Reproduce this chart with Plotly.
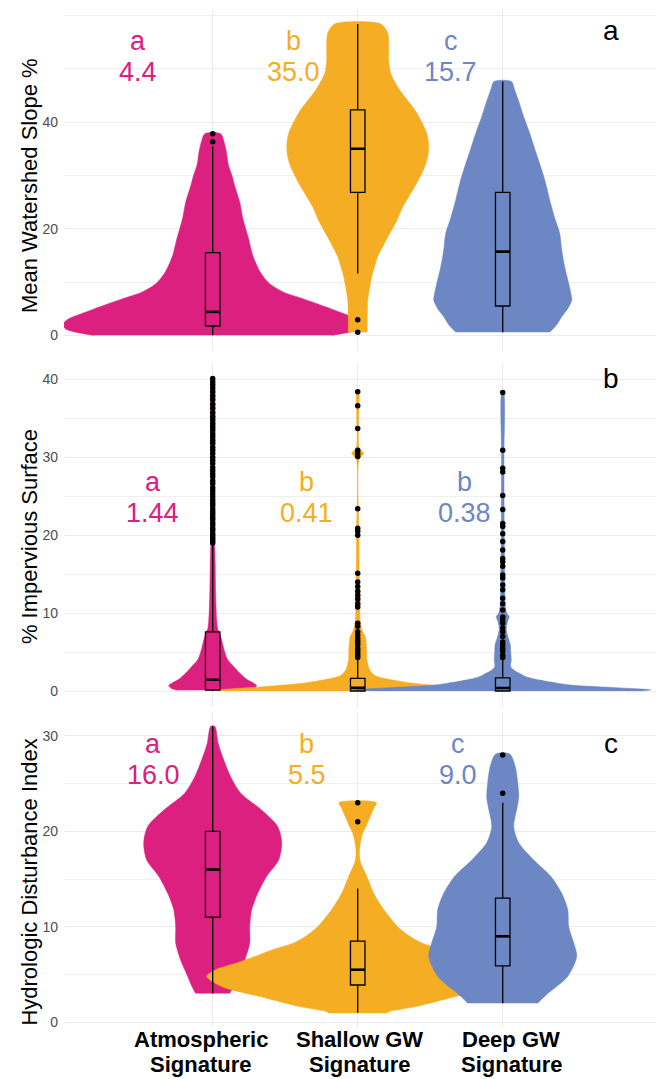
import plotly.graph_objects as go

# ---------------- data ----------------
categories = [1, 2, 3]
label_line1 = ["Atmospheric", "Shallow GW", "Deep GW"]
label_line2 = ["Signature", "Signature", "Signature"]
colors = ["#DC2080", "#F5AD23", "#6C87C4"]

# Panel a: Mean Watershed Slope %  (violin outline: level, scaled density)
slope_atm_y = [0, 0.6, 1.2, 2.0, 3, 4, 5, 6, 7, 8, 9, 10, 12, 15, 18, 20, 22, 25, 28, 29.8, 32.1, 34.6, 36.5, 37.8]
slope_atm_d = [119, 137, 147, 150, 145, 132, 118, 103, 88, 72, 62, 55, 47, 40, 36, 33, 30, 27, 22, 19.5, 15.5, 13.5, 11, 8]
slope_sgw_y = [0.6, 3, 6.6, 9, 11, 13, 14.8, 17, 19.1, 21.5, 24.1, 26, 27.9, 30, 31.6, 33.5, 35.1, 36.5, 37.9, 40, 42.3, 44.5, 46.6, 49.1, 51.5, 53.5, 56.7, 58.4]
slope_sgw_d = [9.5, 9.5, 10, 12, 14, 17, 20, 26, 32, 39, 45, 51, 57, 63, 67, 70, 71, 70.5, 69, 64, 57, 48, 40, 33, 31, 31, 30, 23]
slope_dgw_y = [0.6, 2, 3.5, 5, 6.6, 8, 9.7, 12.8, 16, 19.1, 22, 25.4, 28.5, 31.6, 35, 37.9, 41, 44.1, 46, 47.6]
slope_dgw_d = [47, 54, 59, 65, 69, 68, 66, 62, 59, 57, 52, 47, 43, 38, 32, 27, 21, 15.7, 12, 8.7]
slope_q1 = [1.75, 26.8, 5.5]
slope_median = [4.4, 35.0, 15.7]
slope_q3 = [15.5, 42.3, 26.8]
slope_lo = [0.0, 11.6, 0.6]
slope_hi = [35.4, 58.4, 47.6]
slope_out_atm = [36.3, 37.8]
slope_out_sgw = [2.9, 0.6]
slope_out_dgw = []
slope_letters = ["a", "b", "c"]
slope_median_text = ["4.4", "35.0", "15.7"]

# Panel b: % Impervious Surface
imp_atm_y = [0.1, 0.4, 0.7, 1.0, 1.5, 2.3, 3, 4, 5, 6, 7, 8, 9, 12, 16, 18.5, 19.5, 25, 40.1]
imp_atm_d = [36, 42, 44, 41, 34, 27, 22, 15, 12, 10, 8, 5, 4, 3, 2.5, 2, 1.3, 1.1, 0.8]
imp_sgw_y = [0, 0.1, 0.3, 0.5, 0.7, 1.0, 1.3, 1.6, 2.0, 2.5, 3, 3.5, 4, 5, 6, 7, 7.6, 8.5, 10, 11.5, 13, 15, 20, 29.8, 30.5, 31.2, 35, 38.4]
imp_sgw_d = [135, 141, 125, 100, 80, 55, 40, 27, 17, 13, 11, 10, 9, 9, 8.5, 7.5, 5, 3, 2, 2.5, 2, 1.5, 1.3, 1.5, 6, 1.5, 1, 0.8]
imp_dgw_y = [0, 0.15, 0.35, 0.55, 0.77, 1.0, 1.4, 1.8, 2.27, 2.7, 3.1, 4, 5, 6, 7, 8, 9, 9.5, 10, 11, 15, 20, 30, 38.3]
imp_dgw_d = [138, 148, 125, 95, 68, 55, 37, 24, 16.7, 11, 8, 8.5, 8, 7.5, 5, 3.5, 5, 6.5, 4, 2.5, 2, 1.5, 1.2, 0.8]
imp_q1 = [0.13, 0.0, 0.0]
imp_median = [1.44, 0.41, 0.38]
imp_q3 = [7.6, 1.63, 1.7]
imp_lo = [0.0, 0.0, 0.0]
imp_hi = [18.9, 4.0, 4.2]
imp_out_atm = [19.0, 19.3, 19.6, 19.9, 20.2, 20.6, 20.9, 21.3, 21.6, 22.0, 22.3, 22.7, 23.0, 23.4, 23.8,
               24.1, 24.5, 24.9, 25.3, 25.7, 26.1, 26.6, 27.0, 27.5, 27.9, 28.3, 28.7, 29.2, 29.6, 30.0,
               30.5, 30.9, 31.3, 31.8, 32.2, 32.6, 33.0, 33.5, 33.9, 34.3, 34.8, 35.2, 35.7, 36.3, 36.8,
               37.4, 37.9, 38.4, 38.9, 39.3, 39.7, 40.1]
imp_out_sgw = [38.4, 36.6, 33.7, 30.9, 30.5, 30.1, 23.4, 20.9, 20.5, 20.0, 15.1, 14.0, 13.4, 12.8, 12.3,
               11.8, 11.2, 10.8, 8.7, 8.3, 7.6, 7.2, 6.8, 6.5, 6.2, 5.9, 5.5, 5.2, 4.9, 4.6, 4.3]
imp_out_dgw = [38.3, 30.9, 28.6, 28.1, 25.1, 23.3, 21.5, 21.1, 20.2, 19.2, 18.1, 17.0, 16.6, 16.0, 14.9,
               14.5, 13.6, 13.0, 11.9, 11.2, 10.4, 9.5, 9.1, 8.7, 8.1, 7.6, 7.0, 6.3, 5.9, 5.5, 5.1, 4.6, 4.3]
imp_letters = ["a", "b", "b"]
imp_median_text = ["1.44", "0.41", "0.38"]

# Panel c: Hydrologic Disturbance Index
hdi_atm_y = [3.0, 3.8, 4.8, 6.5, 8.3, 10.0, 11.8, 13.5, 15.3, 17.0, 18.8, 20.5, 22.3, 24.0, 25.7, 27.5, 29.2, 31.0]
hdi_atm_d = [17, 21, 25, 32, 37, 37, 39, 45, 54, 66, 69, 65, 48, 28, 18, 11, 5.5, 2]
hdi_sgw_y = [0.94, 1.1, 1.64, 2.7, 3.7, 4.8, 5.5, 6.2, 7.0, 7.6, 8.3, 9.0, 10.0, 11.0, 11.8, 13.5, 15.3, 16.7, 17.5, 18.3, 19.0, 19.8, 20.7, 21.6, 22.4, 23.0]
hdi_sgw_d = [29, 31, 58, 98, 135, 151, 142, 121, 100, 85, 64, 52, 40, 32, 26, 16, 9, 3, 1.7, 2, 3, 5, 9, 12.7, 16, 18.7]
hdi_dgw_y = [2.0, 3.0, 4.8, 6.9, 8.3, 10.0, 11.8, 13.5, 15.3, 17.0, 18.8, 20.5, 22.3, 23.6, 25.1, 26.8, 28.1]
hdi_dgw_d = [35, 45, 65, 74, 71, 66, 65, 59, 48, 31, 16, 11, 14, 16, 15, 12.5, 7]
hdi_q1 = [11.0, 3.9, 5.9]
hdi_median = [16.0, 5.5, 9.0]
hdi_q3 = [20.0, 8.5, 13.0]
hdi_lo = [3.0, 1.0, 2.0]
hdi_hi = [31.0, 14.0, 23.0]
hdi_out_atm = []
hdi_out_sgw = [23.0, 21.0]
hdi_out_dgw = [28.0, 24.0]
hdi_letters = ["a", "b", "c"]
hdi_median_text = ["16.0", "5.5", "9.0"]

# ---------------- layout constants ----------------
FONT = "Liberation Sans, Arial, sans-serif"
W, H = 656, 1079
ML = 64
DENS_TO_X = 1 / 145.0      # scaled density -> category units
BOX_W = 0.1
XRANGE = [-0.0255, 4.057]

panels = [
    dict(title="Mean Watershed Slope %", tag="a",
         viol=[(slope_atm_y, slope_atm_d), (slope_sgw_y, slope_sgw_d), (slope_dgw_y, slope_dgw_d)],
         q1=slope_q1, med=slope_median, q3=slope_q3, lo=slope_lo, hi=slope_hi,
         out=[slope_out_atm, slope_out_sgw, slope_out_dgw],
         letters=slope_letters, medtxt=slope_median_text,
         domain=[0.67479, 0.99212], yrange=[-2.92, 61.3],
         major=[0, 20, 40], minor=[10, 30, 50, 60],
         lab_dx=[-0.515, -0.44, -0.36], let_y=55.16, num_y=49.35,
         tag_y=0.9719, title_y=0.8276),
    dict(title="% Impervious Surface", tag="b",
         viol=[(imp_atm_y, imp_atm_d), (imp_sgw_y, imp_sgw_d), (imp_dgw_y, imp_dgw_d)],
         q1=imp_q1, med=imp_median, q3=imp_q3, lo=imp_lo, hi=imp_hi,
         out=[imp_out_atm, imp_out_sgw, imp_out_dgw],
         letters=imp_letters, medtxt=imp_median_text,
         domain=[0.34513, 0.66358], yrange=[-2.0, 42.1],
         major=[0, 10, 20, 30, 40], minor=[5, 15, 25, 35],
         lab_dx=[-0.415, -0.355, -0.265], let_y=26.79, num_y=22.81,
         tag_y=0.6494, title_y=0.5023),
    dict(title="Hydrologic Disturbance Index", tag="c",
         viol=[(hdi_atm_y, hdi_atm_d), (hdi_sgw_y, hdi_sgw_d), (hdi_dgw_y, hdi_dgw_d)],
         q1=hdi_q1, med=hdi_median, q3=hdi_q3, lo=hdi_lo, hi=hdi_hi,
         out=[hdi_out_atm, hdi_out_sgw, hdi_out_dgw],
         letters=hdi_letters, medtxt=hdi_median_text,
         domain=[0.04819, 0.34013], yrange=[-0.5, 32.5],
         major=[0, 10, 20, 30], minor=[5, 15, 25],
         lab_dx=[-0.41, -0.35, -0.31], let_y=29.17, num_y=25.92,
         tag_y=0.3111, title_y=0.1821),
]

fig = go.Figure()
annotations = []
layout = {}

for p_i, p in enumerate(panels):
    sfx = "" if p_i == 0 else str(p_i + 1)
    xa, ya = "x" + sfx, "y" + sfx
    # overlay axes (drawn above the violins) for boxes, medians and outliers
    osfx = str(p_i + 4)
    oxa, oya = "x" + osfx, "y" + osfx
    # violins
    for g, (vy, vd) in enumerate(p["viol"]):
        c = categories[g]
        xs = [c + d * DENS_TO_X for d in vd] + [c - d * DENS_TO_X for d in reversed(vd)]
        ys = list(vy) + list(reversed(vy))
        fig.add_trace(go.Scatter(
            x=xs, y=ys, mode="lines", fill="toself", fillcolor=colors[g],
            line=dict(color=colors[g], width=0.5, shape="spline", smoothing=0.8),
            hoverinfo="skip", showlegend=False, xaxis=xa, yaxis=ya))
    # boxes
    fig.add_trace(go.Box(
        x=categories, q1=p["q1"], median=p["med"], q3=p["q3"], orientation="v",
        lowerfence=p["lo"], upperfence=p["hi"], width=BOX_W, whiskerwidth=0,
        fillcolor="rgba(0,0,0,0)", line=dict(color="black", width=1.3),
        boxpoints=False, hoverinfo="skip", showlegend=False, xaxis=oxa, yaxis=oya))
    # thicker median bars
    mx, my = [], []
    for c, m in zip(categories, p["med"]):
        mx += [c - BOX_W / 2, c + BOX_W / 2, None]
        my += [m, m, None]
    fig.add_trace(go.Scatter(x=mx, y=my, mode="lines", line=dict(color="black", width=2.6),
                             hoverinfo="skip", showlegend=False, xaxis=oxa, yaxis=oya))
    # outliers
    ox, oy = [], []
    for c, vals in zip(categories, p["out"]):
        ox += [c] * len(vals)
        oy += list(vals)
    fig.add_trace(go.Scatter(x=ox, y=oy, mode="markers", marker=dict(color="black", size=5.5),
                             hoverinfo="skip", showlegend=False, xaxis=oxa, yaxis=oya))
    # group letters and medians
    for g in range(3):
        for txt, yy in ((p["letters"][g], p["let_y"]), (p["medtxt"][g], p["num_y"])):
            annotations.append(dict(x=categories[g] + p["lab_dx"][g], y=yy, xref=xa, yref=ya,
                                    text=txt, showarrow=False, xanchor="center", yanchor="middle",
                                    font=dict(family=FONT, size=27, color=colors[g])))
    # panel tag
    annotations.append(dict(x=0.924, y=p["tag_y"], xref="paper", yref="paper", text=p["tag"],
                            showarrow=False, xanchor="center", yanchor="middle",
                            font=dict(family=FONT, size=28, color="black")))
    # y title
    annotations.append(dict(x=(29.1 - ML) / (W - ML), y=p["title_y"], xref="paper", yref="paper",
                            text=p["title"], textangle=-90, showarrow=False,
                            xanchor="center", yanchor="middle",
                            font=dict(family=FONT, size=22, color="black")))
    layout["xaxis" + sfx] = dict(domain=[0, 1], range=XRANGE, anchor=ya, tickvals=categories,
                                 showticklabels=False, ticks="", showgrid=True, automargin=False,
                                 gridcolor="#EBEBEB", gridwidth=1.2, zeroline=False, showline=False)
    layout["yaxis" + sfx] = dict(domain=p["domain"], range=p["yrange"], anchor=xa,
                                 tickvals=p["major"], ticks="", showgrid=True, automargin=False,
                                 gridcolor="#EBEBEB", gridwidth=1.2, zeroline=False, showline=False,
                                 ticklabelstandoff=5,
                                 tickfont=dict(family=FONT, size=14, color="#4D4D4D"),
                                 minor=dict(tickvals=p["minor"], showgrid=True,
                                            gridcolor="#EFEFEF", gridwidth=0.8))
    layout["xaxis" + osfx] = dict(overlaying=xa, anchor=oya, range=XRANGE, visible=False,
                                  showgrid=False, zeroline=False, automargin=False)
    layout["yaxis" + osfx] = dict(overlaying=ya, anchor=oxa, range=p["yrange"], visible=False,
                                  showgrid=False, zeroline=False, automargin=False)

# category labels under the bottom panel
lab_x = [0.916, 2.011, 3.059]
for g in range(3):
    for txt, yy in ((label_line1[g], 0.03698), (label_line2[g], 0.01381)):
        annotations.append(dict(x=lab_x[g], y=yy, xref="x3", yref="paper", text=txt,
                                showarrow=False, xanchor="center", yanchor="middle",
                                font=dict(family=FONT, size=22, color="black", weight="bold")))

fig.update_layout(
    width=W, height=H, margin=dict(l=ML, r=0, t=0, b=0, autoexpand=False),
    plot_bgcolor="white", paper_bgcolor="white", showlegend=False, hovermode=False,
    annotations=annotations, **layout)

fig.write_html("out.html", config={"displayModeBar": False},
               post_script="document.body.style.margin='0';")
